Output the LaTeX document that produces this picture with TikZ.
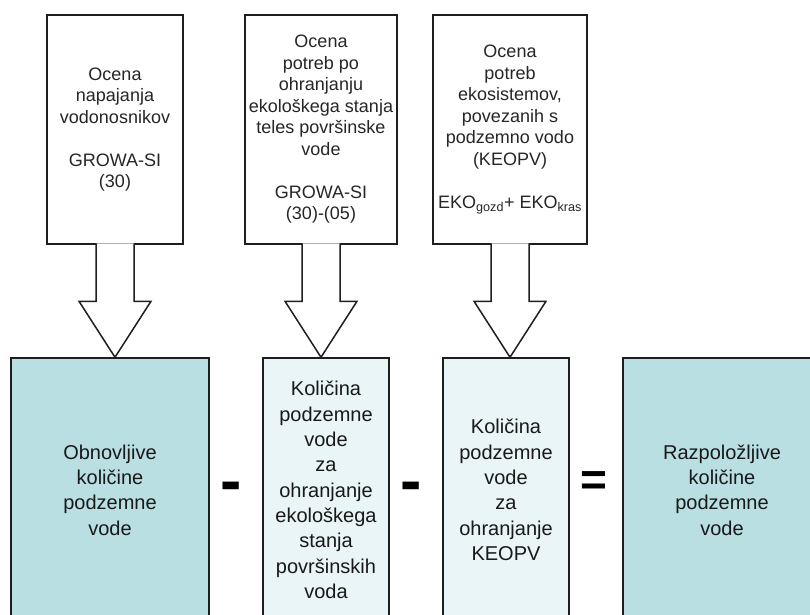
\documentclass[tikz,border=0pt]{standalone}
\usepackage{fontspec}
\setmainfont{Liberation Sans}
\usepackage{xcolor}
\usepackage{tikz}
\usetikzlibrary{positioning, calc}

\definecolor{tealfill}{RGB}{185,223,226}
\definecolor{palefill}{RGB}{233,245,247}
\definecolor{boxline}{RGB}{30,30,30}

% block arrow from a top box down to a bottom box
\newcommand{\blockarrow}[2]{%
  \filldraw[arrowbody] ($(#1.south)+(-19,-1.5)$) -- ($(#1.south |- #2.north)+(-19,-56)$)
    -- ++(-17,0) -- (#1.south |- #2.north) -- ++(36,-56) -- ++(-17,0)
    -- ($(#1.south)+(19,-1.5)$);}

\begin{document}
\begin{tikzpicture}[
      x=1pt, y=-1pt,
      topbox/.style={draw=boxline, line width=1.5pt, fill=white, minimum height=229pt,
        inner sep=2pt, align=center, text=black!85, font=\fontsize{18}{21.5}\selectfont},
      sumbox/.style={draw=boxline, line width=1.5pt, minimum height=264pt,
        inner sep=2pt, align=center, text=black!90, font=\fontsize{20}{25.3}\selectfont},
      signnode/.style={inner sep=0pt, text=black, font=\bfseries},
      arrowbody/.style={draw=boxline, line width=1.5pt, fill=white, line join=miter}
    ]
      \useasboundingbox (0,0) rectangle (810,614);
      \clip (0,0) rectangle (810,614);

      % Top boxes
      \node[topbox, minimum width=136pt] (napajanje) at (115,129.5)
        {Ocena\\napajanja\\vodonosnikov\\[21.5pt]GROWA-SI\\(30)};
      \node[topbox, minimum width=152pt] (povrsinske) at (321,129.5)
        {Ocena\\potreb po\\ohranjanju\\ekološkega stanja\\teles površinske\\vode\\[21.5pt]GROWA-SI\\(30)-(05)};
      \node[topbox, minimum width=154pt] (keopv) at (510,129.5)
        {Ocena\\potreb\\ekosistemov,\\povezanih s\\podzemno vodo\\(KEOPV)\\[21.5pt]EKO\textsubscript{gozd}+ EKO\textsubscript{kras}};

      % Bottom boxes
      \node[sumbox, fill=tealfill, minimum width=198pt] (obnovljive) at (110,490)
        {Obnovljive\\količine\\podzemne\\vode};
      \node[sumbox, fill=palefill, minimum width=126pt] (ekoloske) at (326,490)
        {Količina\\podzemne\\vode\\za\\ohranjanje\\ekološkega\\stanja\\površinskih\\voda};
      \node[sumbox, fill=palefill, minimum width=126pt] (zakeopv) at (506,490)
        {Količina\\podzemne\\vode\\za\\ohranjanje\\KEOPV};
      \node[sumbox, fill=tealfill, minimum width=198pt] (razpolozljive) at (722,490)
        {Razpoložljive\\količine\\podzemne\\vode};

      % Arrows
      \blockarrow{napajanje}{obnovljive}
      \blockarrow{povrsinske}{ekoloske}
      \blockarrow{keopv}{zakeopv}

      % Signs
      \node[signnode, font=\bfseries\fontsize{64}{64}\selectfont] (minusa) at (231,492) {-};
      \node[signnode, font=\bfseries\fontsize{64}{64}\selectfont] (minusb) at (411,492) {-};
      \node[signnode, font=\bfseries\fontsize{46}{46}\selectfont] (enako) at (594,483.5) {=};
    \end{tikzpicture}
\end{document}
